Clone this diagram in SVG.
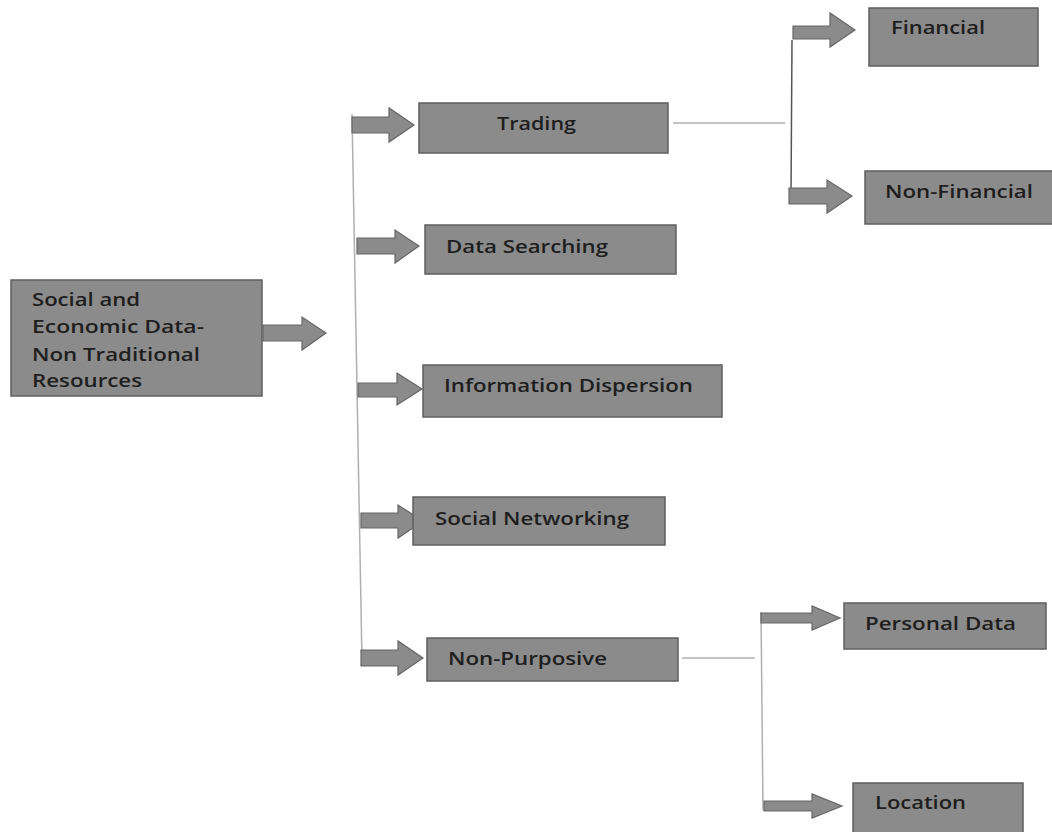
<svg xmlns="http://www.w3.org/2000/svg" width="1052" height="832" viewBox="0 0 1052 832">
<style>
.box{fill:#8b8b8b;stroke:#5f5f5f;stroke-width:1.5}
.arr{fill:#8b8b8b;stroke:#666;stroke-width:1.2;stroke-linejoin:miter}
.t{font-family:"Open Sans","Liberation Sans",sans-serif;font-size:18px;font-weight:600;fill:#1e1e1e}
.ln{fill:none;stroke:#b0b0b0;stroke-width:1.5}
.lnd{fill:none;stroke:#555;stroke-width:1.5}
</style>
<rect width="1052" height="832" fill="#fff"/>
<g id="connectors">
<line class="ln" x1="352" y1="114" x2="362" y2="662"/>
<line class="ln" x1="673" y1="123" x2="785" y2="123"/>
<line class="lnd" x1="792" y1="40" x2="791" y2="194"/>
<line class="ln" x1="682" y1="658" x2="755" y2="658"/>
<line class="ln" x1="761" y1="612" x2="763" y2="810"/>
<polygon class="arr" points="263,325 302,325 302,317 326,333 302,350 302,341 263,341"/>
<polygon class="arr" points="352,117 389,117 389,108 414,125 389,142 389,133 352,133"/>
<polygon class="arr" points="357,238 395,238 395,230 419,246 395,263 395,254 357,254"/>
<polygon class="arr" points="358,383 397,383 397,373 422,389 397,405 397,397 358,397"/>
<polygon class="arr" points="361,513 398,513 398,505 423,521 398,538 398,528 361,528"/>
<polygon class="arr" points="361,650 398,650 398,641 423,658 398,675 398,666 361,666"/>
<polygon class="arr" points="793,26 830,26 830,13 855,30 830,47 830,39 793,39"/>
<polygon class="arr" points="789,188 827,188 827,180 852,196 827,213 827,204 789,204"/>
<polygon class="arr" points="761,613 812,613 812,606 840,618 812,630 812,623 761,623"/>
<polygon class="arr" points="764,801 812,801 812,794 842,806 812,818 812,811 764,811"/>
</g>
<g id="root">
<rect class="box" x="11" y="280" width="251" height="116"/>
<text class="t" x="32" y="306" textLength="108" lengthAdjust="spacingAndGlyphs">Social and</text>
<text class="t" x="32" y="333" textLength="172" lengthAdjust="spacingAndGlyphs">Economic Data-</text>
<text class="t" x="32" y="361" textLength="168" lengthAdjust="spacingAndGlyphs">Non Traditional</text>
<text class="t" x="32" y="387" textLength="110" lengthAdjust="spacingAndGlyphs">Resources</text>
</g>
<g id="trading">
<rect class="box" x="419" y="103" width="249" height="50"/>
<text class="t" x="497" y="130" textLength="79" lengthAdjust="spacingAndGlyphs">Trading</text>
</g>
<g id="data-searching">
<rect class="box" x="425" y="225" width="251" height="49"/>
<text class="t" x="446" y="253" textLength="162" lengthAdjust="spacingAndGlyphs">Data Searching</text>
</g>
<g id="information-dispersion">
<rect class="box" x="423" y="365" width="299" height="52"/>
<text class="t" x="444" y="392" textLength="249" lengthAdjust="spacingAndGlyphs">Information Dispersion</text>
</g>
<g id="social-networking">
<rect class="box" x="413" y="497" width="252" height="48"/>
<text class="t" x="435" y="525" textLength="194" lengthAdjust="spacingAndGlyphs">Social Networking</text>
</g>
<g id="non-purposive">
<rect class="box" x="427" y="638" width="251" height="43"/>
<text class="t" x="448" y="665" textLength="159" lengthAdjust="spacingAndGlyphs">Non-Purposive</text>
</g>
<g id="financial">
<rect class="box" x="869" y="8" width="169" height="58"/>
<text class="t" x="891" y="34" textLength="94" lengthAdjust="spacingAndGlyphs">Financial</text>
</g>
<g id="non-financial">
<rect class="box" x="865" y="171" width="192" height="53"/>
<text class="t" x="885" y="198" textLength="148" lengthAdjust="spacingAndGlyphs">Non-Financial</text>
</g>
<g id="personal-data">
<rect class="box" x="844" y="603" width="202" height="46"/>
<text class="t" x="865" y="630" textLength="151" lengthAdjust="spacingAndGlyphs">Personal Data</text>
</g>
<g id="location">
<rect class="box" x="853" y="783" width="170" height="55"/>
<text class="t" x="875" y="809" textLength="91" lengthAdjust="spacingAndGlyphs">Location</text>
</g>
</svg>
